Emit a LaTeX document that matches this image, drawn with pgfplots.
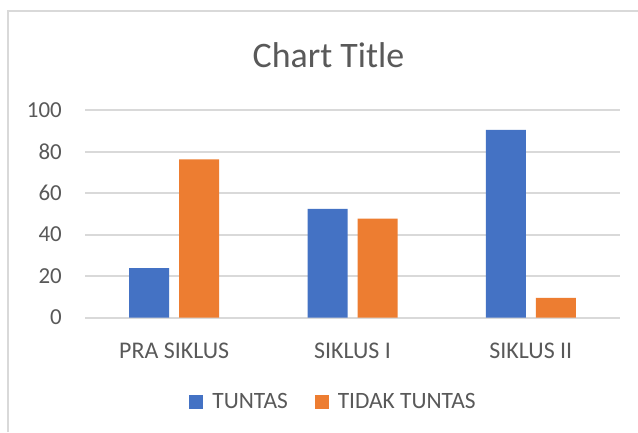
\documentclass[border=0pt]{standalone}
\usepackage{fontspec}
\setmainfont{Carlito}
\usepackage{pgfplots}
\pgfplotsset{compat=1.18}
\definecolor{cblue}{HTML}{4472C4}
\definecolor{corange}{HTML}{ED7D31}
\definecolor{cgrid}{HTML}{D9D9D9}
\definecolor{ctext}{HTML}{595959}
\begin{document}
\begin{tikzpicture}[x=1bp,y=1bp]
\useasboundingbox (0,0) rectangle (638,432);
\fill[white] (0,0) rectangle (638,432);
\draw[cgrid, line width=1.8bp] (8,0) -- (8,421) -- (638,421);
\node[anchor=base, text=ctext, font=\fontsize{36}{40}\selectfont, inner sep=0pt] at (328.5,365) {Chart Title};
\begin{axis}[
  at={(85bp,114.4bp)}, anchor=south west,
  scale only axis, width=535bp, height=207.6bp,
  xmin=-0.5, xmax=2.5, ymin=0, ymax=100,
  ytick={0,20,40,60,80,100},
  xtick={0,1,2}, xticklabels={PRA SIKLUS, SIKLUS I, SIKLUS II},
  axis line style={draw=none},
  major tick length=0pt,
  ymajorgrids, grid style={cgrid, line width=2bp},
  ybar=10bp, bar width=40bp,
  /pgf/number format/assume math mode=true,
  tick label style={text=ctext, inner sep=0pt},
  yticklabel style={anchor=east, xshift=-23bp, font=\fontsize{23}{26}\selectfont},
  xticklabel style={anchor=north, yshift=-25bp, font=\fontsize{24}{28}\selectfont},
  legend columns=2,
  legend style={at={(0.4626,-0.4066)}, anchor=center, draw=none, fill=none,
    inner sep=0pt,
    nodes={inner sep=0pt, text=ctext, font=\fontsize{23.5}{27}\selectfont},
    /tikz/every odd column/.append style={column sep=9bp},
    /tikz/every even column/.append style={column sep=27bp}},
  legend image code/.code={\fill[#1] (0bp,-7bp) rectangle (14bp,7bp);},
]
\addplot[fill=cblue, draw=none] coordinates {(0,23.81) (1,52.38) (2,90.48)};
\addplot[fill=corange, draw=none] coordinates {(0,76.19) (1,47.62) (2,9.52)};
\legend{TUNTAS, TIDAK TUNTAS}
\end{axis}
\end{tikzpicture}
\end{document}
